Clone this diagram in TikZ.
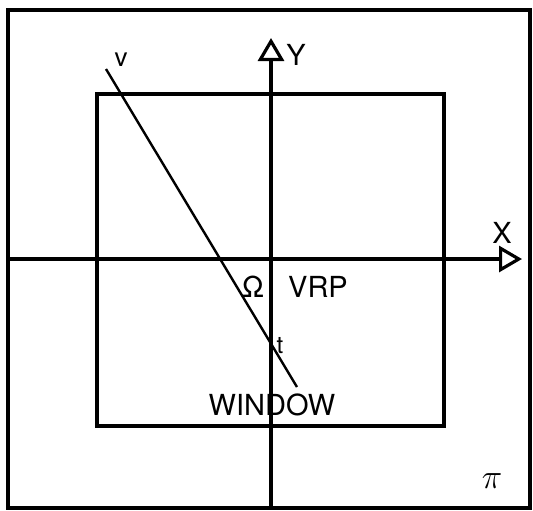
\documentclass[tikz,border=0pt]{standalone}
\usepackage{fontspec}
\setmainfont{TeX Gyre Heros}
\usetikzlibrary{arrows.meta}

\begin{document}
\begin{tikzpicture}[
    x=0.5pt, y=-0.5pt,
    font=\fontsize{14.5}{16}\selectfont,
    frame/.style={line width=1.7pt},
    axis/.style={line width=1.6pt, -{Triangle[open, length=11.5pt, width=13pt, line width=1.6pt]}},
    ray/.style={line width=1.2pt}
]
    \useasboundingbox (0,0) rectangle (533,510);

    % Coordinates
    \coordinate (pi_nw)  at (8, 10);
    \coordinate (pi_se)  at (530, 508);
    \coordinate (win_nw) at (97, 94);
    \coordinate (win_se) at (444, 426);
    \coordinate (x_from) at (8, 259);
    \coordinate (x_to)   at (522, 259);
    \coordinate (y_from) at (271, 508);
    \coordinate (y_to)   at (271, 38);
    \coordinate (v_top)  at (106, 69);
    \coordinate (v_end)  at (297, 387);

    % Projection plane and window
    \draw[frame] (pi_nw) rectangle (pi_se);
    \draw[frame] (win_nw) rectangle (win_se);

    % Axes through the VRP
    \draw[axis] (x_from) -- (x_to);
    \draw[axis] (y_from) -- (y_to);

    % Viewing ray
    \draw[ray] (v_top) -- (v_end);

    % Labels
    \node (lbl_v)   at (121, 60)  {\fontsize{13}{14}\selectfont v};
    \node (lbl_y)   at (296, 55)  {Y};
    \node (lbl_x)   at (502, 233) {X};
    \node (lbl_om)  at (253, 287) {Ω};
    \node (lbl_vrp) at (318, 287) {VRP};
    \node (lbl_t)   at (280, 346) {\fontsize{12}{13}\selectfont t};
    \node (lbl_win) at (272, 405) {WINDOW};
    \node (lbl_pi)  at (492, 481) {\fontsize{17}{18}\selectfont$\pi$};

\end{tikzpicture}
\end{document}
